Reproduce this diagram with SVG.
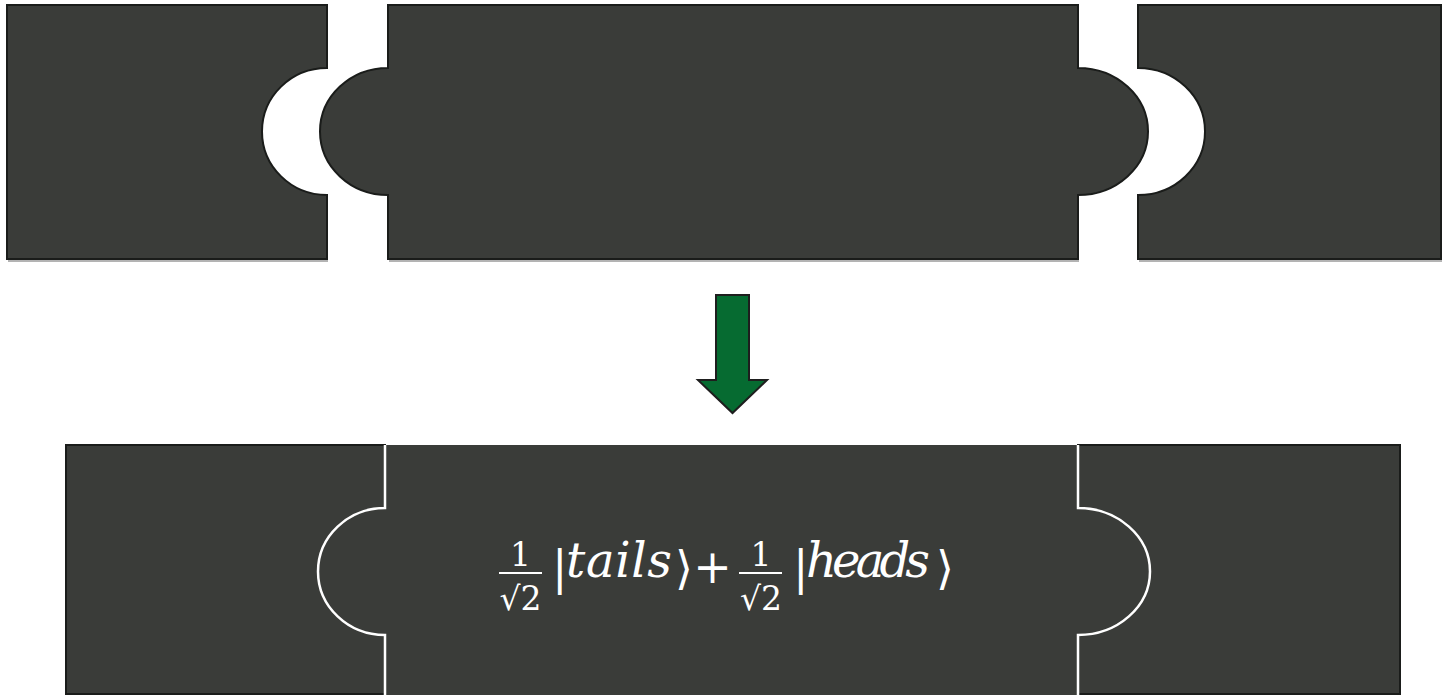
<svg xmlns="http://www.w3.org/2000/svg" width="1444" height="697" viewBox="0 0 1444 697">
<defs>
<style>
.pc{fill:#3a3c39;stroke:#1a1c1a;stroke-width:2}
.sh{fill:none;stroke:#9a9a9a;stroke-width:1.5}
.mid{fill:#3a3c39;stroke:none}
.wl{fill:none;stroke:#ffffff;stroke-width:2.5}
.f{font-family:"DejaVu Serif","Liberation Serif",serif;fill:#ffffff}
.it{font-style:italic}
</style>
</defs>
<rect width="1444" height="697" fill="#ffffff"/>
<g id="top-left">
<path class="sh" d="M8,261 H328"/>
<path class="pc" d="M7,5 H327 V68 A65,63.5 0 0 0 327,195 V259 H7 Z"/>
</g>
<g id="top-middle">
<path class="sh" d="M389,261 H1079"/>
<path class="pc" d="M388,5 H1078 V68 A70,63.5 0 0 1 1078,195 V259 H388 V195 A68,63.5 0 0 1 388,68 Z"/>
</g>
<g id="top-right">
<path class="sh" d="M1139,261 H1442"/>
<path class="pc" d="M1138,5 H1441 V259 H1138 V195 A67,63.5 0 0 0 1138,68 Z"/>
</g>
<g id="arrow">
<path d="M716,295 H749 V380 H767 L732.5,413 L698,380 H716 Z" fill="#066b31" stroke="#1e1e1e" stroke-width="2"/>
</g>
<g id="bottom-left">
<rect class="pc" x="66" y="445" width="319" height="249"/>
</g>
<g id="bottom-right">
<rect class="pc" x="1078" y="445" width="322" height="249"/>
</g>
<g id="bottom-middle">
<path class="mid" d="M385,445 H1078 V508 A72,63.5 0 0 1 1078,635 V695 H385 V635 A67,63.5 0 0 1 385,508 Z"/>
<path class="wl" d="M385,445 V508 A67,63.5 0 0 0 385,635 V695"/>
<path class="wl" d="M1078,445 V508 A72,63.5 0 0 1 1078,635 V695"/>
<g id="formula">
<text class="f" x="520.5" y="566" font-size="33" text-anchor="middle">1</text>
<line x1="499" y1="573" x2="542" y2="573" stroke="#ffffff" stroke-width="2"/>
<text class="f" x="520.5" y="610" font-size="33" text-anchor="middle">√2</text>
<text class="f" x="552" y="584" font-size="46">|</text>
<text class="f it" x="566" y="577" font-size="48" textLength="106" lengthAdjust="spacing">tails</text>
<text class="f" x="675" y="584" font-size="46">⟩</text>
<text class="f" x="712.5" y="583" font-size="46" text-anchor="middle">+</text>
<text class="f" x="761" y="566" font-size="33" text-anchor="middle">1</text>
<line x1="739" y1="573" x2="782" y2="573" stroke="#ffffff" stroke-width="2"/>
<text class="f" x="761" y="610" font-size="33" text-anchor="middle">√2</text>
<text class="f" x="793" y="584" font-size="46">|</text>
<text class="f it" x="806" y="577" font-size="48" textLength="124" lengthAdjust="spacing">heads</text>
<text class="f" x="936" y="584" font-size="46">⟩</text>
</g>
</g>
</svg>
